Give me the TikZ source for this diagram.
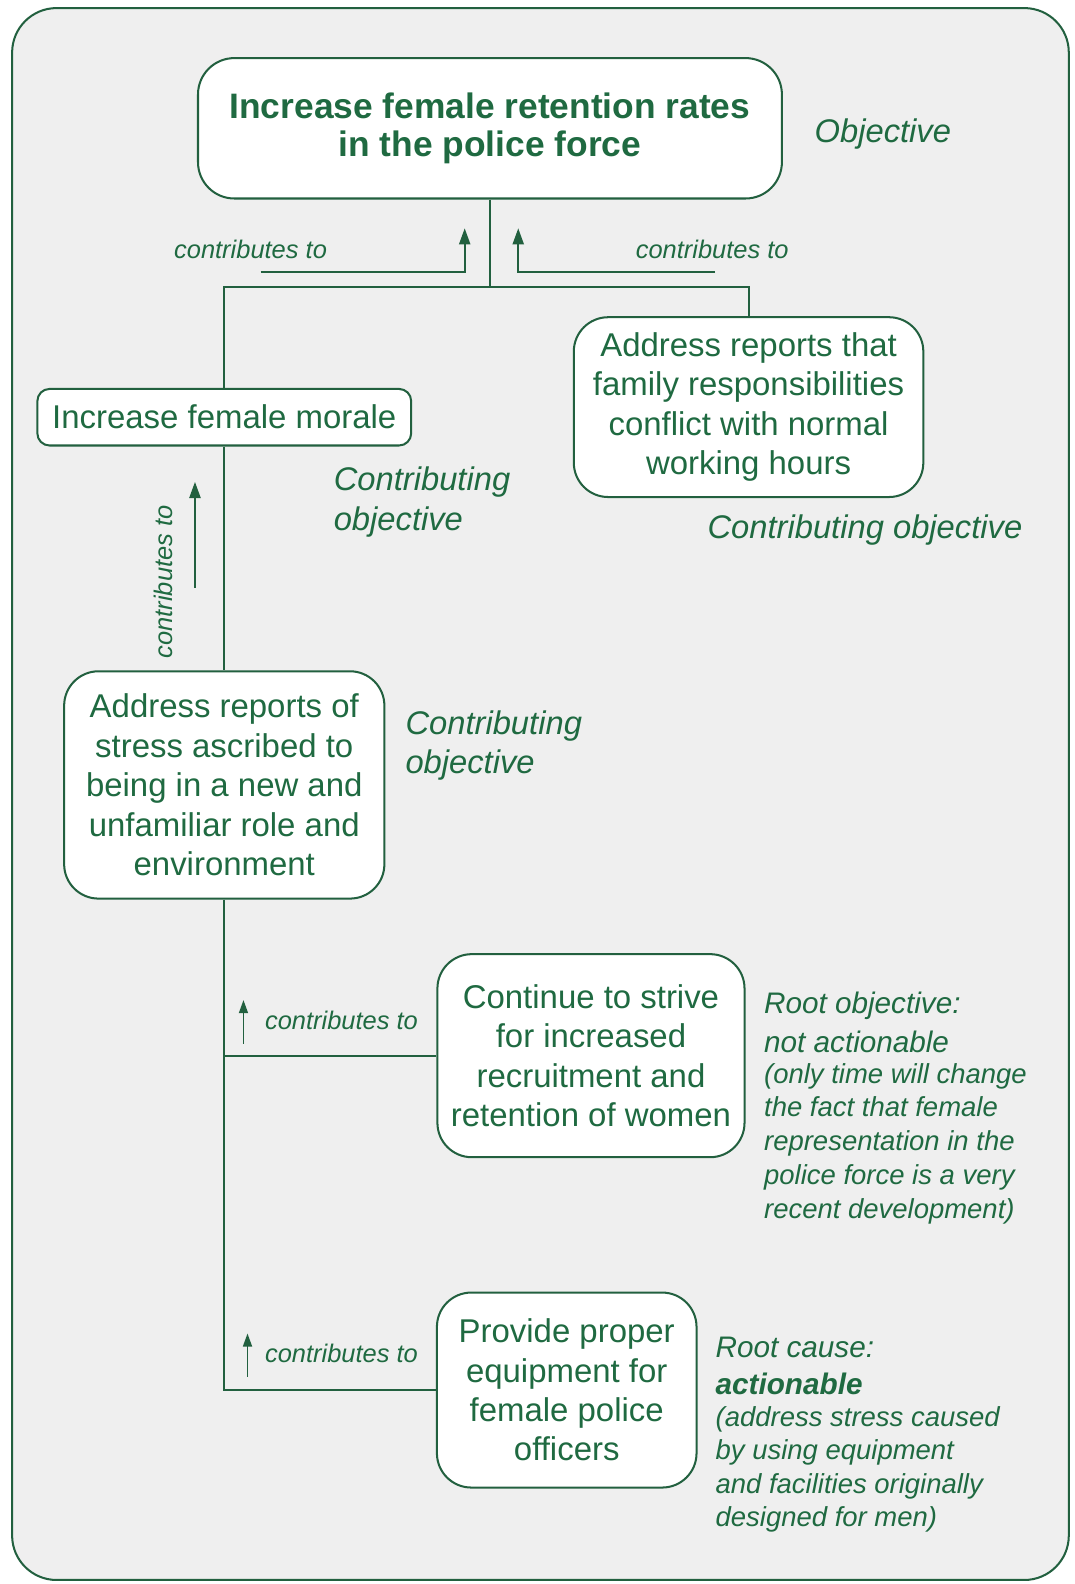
\documentclass[tikz,border=0pt]{standalone}
\usepackage{fontspec}
\setmainfont{Liberation Sans}
\usetikzlibrary{positioning, arrows.meta}
\definecolor{treegreen}{HTML}{1F6A41}
\definecolor{treeline}{HTML}{22603F}
\definecolor{panelgray}{HTML}{EFEFEF}

\begin{document}
\begin{tikzpicture}[x=0.5pt, y=-0.5pt,
  every node/.style={text=treegreen},
  goalbox/.style={draw=treeline, fill=white, line width=1pt, rounded corners=18pt, align=center, inner sep=0pt, font=\fontsize{17.5}{19}\selectfont\bfseries},
  objbox/.style={draw=treeline, fill=white, line width=1pt, rounded corners=17pt, align=center, inner sep=0pt, font=\fontsize{16.3}{19.5}\selectfont},
  note/.style={font=\fontsize{16.2}{19.5}\selectfont\itshape, align=left, anchor=west, inner sep=0pt},
  headnote/.style={font=\fontsize{14.7}{19}\selectfont\itshape, align=left, anchor=north west, inner sep=0pt},
  bodynote/.style={font=\fontsize{13.6}{16.7}\selectfont\itshape, align=left, anchor=north west, inner sep=0pt},
  small/.style={font=\fontsize{12.6}{14}\selectfont\itshape, inner sep=0pt},
  link/.style={draw=treeline, line width=1pt},
  contrib/.style={draw=treeline, line width=1pt, -{Triangle[length=8pt, width=5.5pt]}},
  contribsmall/.style={draw=treeline, line width=0.7pt, -{Triangle[length=6.5pt, width=4.5pt]}}
]
\useasboundingbox (0,0) rectangle (1064,1568);
\fill[white] (0,0) rectangle (1064,1568);
\draw[treeline, line width=1pt, fill=panelgray, rounded corners=22pt] (12,8) rectangle (1058,1564);

% Objective
\node[goalbox, minimum width=289pt, minimum height=69.5pt] (goal) at (485,127)
  {Increase female retention rates\\in the police force};
\node[note] (goallbl) at (806,133) {Objective};

% Contributing objectives
\node[objbox, rounded corners=6pt, minimum width=185pt, minimum height=28pt] (morale) at (222,413)
  {Increase female morale};
\node[objbox, minimum width=173pt, minimum height=89pt] (family) at (741,403)
  {Address reports that\\family responsibilities\\conflict with normal\\working hours};
\node[note, anchor=north west] (moralelbl) at (330,462) {Contributing\\objective};
\node[note] (familylbl) at (700,525) {Contributing objective};

% Stress
\node[objbox, minimum width=158.5pt, minimum height=112.5pt] (stress) at (222,777)
  {Address reports of\\stress ascribed to\\being in a new and\\unfamiliar role and\\environment};
\node[note, anchor=north west] (stresslbl) at (401,703) {Contributing\\objective};

% Root objective
\node[objbox, minimum width=152pt, minimum height=100.5pt] (strive) at (585,1045)
  {Continue to strive\\for increased\\recruitment and\\retention of women};
\node[headnote] (strivehead) at (756,982) {Root objective:\\not actionable};
\node[bodynote] (strivebody) at (756,1052)
  {(only time will change\\the fact that female\\representation in the\\police force is a very\\recent development)};

% Root cause
\node[objbox, minimum width=128.5pt, minimum height=96.5pt] (equip) at (561,1376)
  {Provide proper\\equipment for\\female police\\officers};
\node[headnote, font=\fontsize{14.7}{18.5}\selectfont\itshape] (equiphead) at (708,1323) {Root cause:\\\textbf{actionable}};
\node[bodynote, font=\fontsize{13.6}{16.5}\selectfont\itshape] (equipbody) at (708,1392)
  {(address stress caused\\by using equipment\\and facilities originally\\designed for men)};

% Links
\coordinate (jn) at (485,284);
\draw[link] (goal.south) -- (jn);
\draw[link] (morale.north) |- (jn) -| (family.north);
\draw[link] (morale.south) -- (stress.north);
\draw[link] (stress.south) |- (equip.west);
\draw[link] (stress.south |- strive.west) -- (strive.west);

% contributes to
\coordinate (ca1) at (258,269);
\coordinate (ca2) at (708,269);
\draw[contrib] (ca1) -| (460,226);
\draw[contrib] (ca2) -| (513,226);
\node[small] (cl1) at (248,247) {contributes to};
\node[small] (cl2) at (705,247) {contributes to};
\draw[contrib] (193,582) -- (193,477);
\node[small, rotate=90] (cl3) at (162,576) {contributes to};
\draw[contribsmall] (241,1033) -- (241,990);
\node[small] (cl4) at (338,1010) {contributes to};
\draw[contribsmall] (245,1363) -- (245,1320);
\node[small] (cl5) at (338,1340) {contributes to};

\end{tikzpicture}
\end{document}
